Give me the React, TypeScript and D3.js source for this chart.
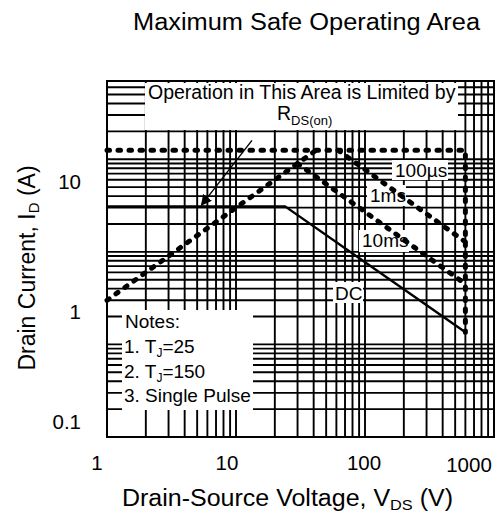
import * as d3 from "d3";
import { useEffect } from "react";

// SOA curves, [V_DS (V), I_D (A)]
const PULSE_100US: [number, number][] = [[1, 125], [600, 125], [600, 1.35]];
const RDS_ON_LIMIT: [number, number][] = [[1, 3], [41.7, 125]];
const PULSE_1MS: [number, number][] = [[62, 125], [600, 12.8]];
const PULSE_10MS: [number, number][] = [[30, 90], [600, 4.5]];
const DC: [number, number][] = [[1, 31], [24, 31], [600, 1.35]];
const ARROW: [number, number][] = [[13.3, 160], [5.4, 32]];

const X_DOMAIN: [number, number] = [1, 1000];
const Y_DOMAIN: [number, number] = [0.1, 700];
const X_LABELS = [1, 10, 100, 1000];
const Y_LABELS = [0.1, 1, 10];

const W = 495;
const H = 512;
const PLOT = { left: 107, right: 494, top: 81, bottom: 437 };
const FONT = "'Liberation Sans', Arial, Helvetica, sans-serif";

export default function App() {
  useEffect(() => {
    document.body.style.margin = "0";
  }, []);

  const x = d3.scaleLog().domain(X_DOMAIN).range([PLOT.left, PLOT.right]);
  const y = d3.scaleLog().domain(Y_DOMAIN).range([PLOT.bottom, PLOT.top]);

  // the original's tick labels do not sit on the decade lines; keep that look
  const xLabel = d3.scaleLog().domain([1, 10, 100, 1000]).range([97, 227, 364, 469]);
  const yLabel = d3.scaleLog().domain([0.1, 1, 10]).range([422, 312, 182]);

  const line = d3
    .line<[number, number]>()
    .x((d) => x(d[0]))
    .y((d) => y(d[1]));

  const dotted = {
    fill: "none",
    stroke: "#000",
    strokeWidth: 5,
    strokeDasharray: "2.5 8.5",
    strokeLinecap: "round" as const,
  };

  const xt = x.ticks();
  const yt = y.ticks();

  return (
    <svg width={W} height={H} style={{ display: "block" }} fontFamily={FONT}>
      <defs>
        <marker id="ah" viewBox="0 0 10 10" refX="9" refY="5" markerWidth="11" markerHeight="11" orient="auto" markerUnits="userSpaceOnUse">
          <path d="M0,0 L10,5 L0,10 z" fill="#000" />
        </marker>
      </defs>
      <rect width={W} height={H} fill="#fff" />

      <text x={133} y={30} fontSize={23} textLength={347} lengthAdjust="spacingAndGlyphs">
        Maximum Safe Operating Area
      </text>

      {/* grid */}
      <g stroke="#000" strokeWidth={1.9}>
        {xt.map((t) => (
          <line key={`gx${t}`} x1={x(t)} x2={x(t)} y1={PLOT.top} y2={PLOT.bottom} />
        ))}
        {yt.map((t) => (
          <line key={`gy${t}`} x1={PLOT.left} x2={PLOT.right} y1={y(t)} y2={y(t)} />
        ))}
      </g>

      {/* white label boxes punched out of the grid */}
      <g fill="#fff">
        <rect x={145} y={83} width={313} height={47} />
        <rect x={122} y={310} width={131} height={100} />
        <rect x={392} y={160} width={56} height={20} />
        <rect x={367} y={185} width={39} height={21} />
        <rect x={359} y={230} width={50} height={22} />
        <rect x={333} y={282} width={30} height={21} />
      </g>

      <rect
        x={PLOT.left}
        y={PLOT.top}
        width={PLOT.right - PLOT.left}
        height={PLOT.bottom - PLOT.top}
        fill="none"
        stroke="#000"
        strokeWidth={2}
      />

      {/* curves */}
      <path d={line(DC) ?? ""} fill="none" stroke="#000" strokeWidth={2.4} />
      <path d={line(PULSE_100US) ?? ""} {...dotted} />
      <path d={line(RDS_ON_LIMIT) ?? ""} {...dotted} />
      <path d={line(PULSE_1MS) ?? ""} {...dotted} />
      <path d={line(PULSE_10MS) ?? ""} {...dotted} />
      <path d={line(ARROW) ?? ""} fill="none" stroke="#000" strokeWidth={1.4} markerEnd="url(#ah)" />

      {/* annotations */}
      <g fontSize={19.5} fill="#000">
        <text x={148} y={99}>Operation in This Area is Limited by</text>
        <text x={277} y={120}>
          R<tspan fontSize={13} dy={5}>DS(on)</tspan>
        </text>
        <text x={395} y={177} fontSize={19}>100µs</text>
        <text x={370} y={202} fontSize={19}>1ms</text>
        <text x={362} y={247} fontSize={19}>10ms</text>
        <text x={335} y={300} fontSize={19}>DC</text>
      </g>
      <g fontSize={19} fill="#000" style={{ whiteSpace: "pre" }}>
        <text x={125} y={328}>Notes:</text>
        <text x={124} y={353}>
          {"1.  T"}<tspan fontSize={12} dy={4}>J</tspan><tspan dy={-4}>=25</tspan>
        </text>
        <text x={124} y={378}>
          {"2. T"}<tspan fontSize={12} dy={4}>J</tspan><tspan dy={-4}>=150</tspan>
        </text>
        <text x={124} y={402}>3. Single Pulse</text>
      </g>

      {/* tick labels */}
      <g fontSize={20.5} fill="#000">
        {X_LABELS.map((v) => (
          <text key={`xl${v}`} x={xLabel(v)} y={v === 1000 ? 472 : 470} textAnchor="middle">
            {d3.format("~g")(v)}
          </text>
        ))}
        {Y_LABELS.map((v) => (
          <text key={`yl${v}`} x={81} y={yLabel(v)} dy="0.36em" textAnchor="end">
            {String(v)}
          </text>
        ))}
      </g>

      {/* axis titles */}
      <text x={122} y={506} fontSize={23} textLength={331} lengthAdjust="spacingAndGlyphs">
        Drain-Source Voltage, V<tspan fontSize={15} dy={4}>DS</tspan>
        <tspan dy={-4}> (V)</tspan>
      </text>
      <text transform="translate(35,268) rotate(-90)" textAnchor="middle" fontSize={23}>
        Drain Current, I<tspan fontSize={15} dy={4}>D</tspan>
        <tspan dy={-4}> (A)</tspan>
      </text>
    </svg>
  );
}
